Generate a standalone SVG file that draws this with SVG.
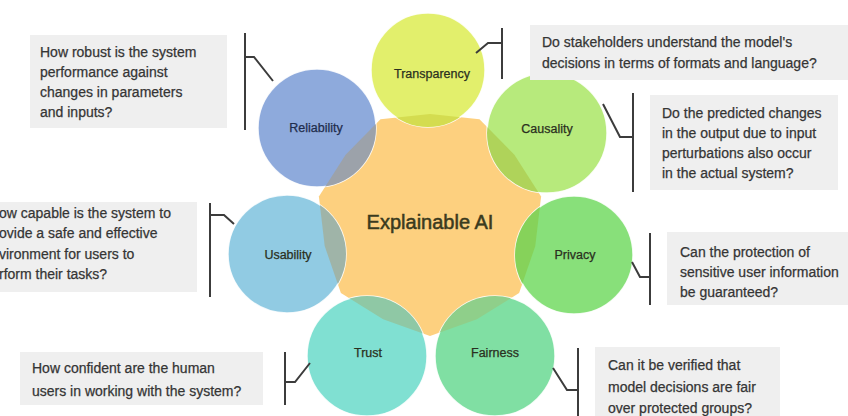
<svg xmlns="http://www.w3.org/2000/svg" width="848" height="416" viewBox="0 0 848 416">
<defs>
<style>
.box{fill:#efefef}
.q{font-family:"Liberation Sans",Arial,sans-serif;font-size:14px;fill:#353535;stroke:#353535;stroke-width:0.25}
.lbl{font-family:"Liberation Sans",Arial,sans-serif;font-size:12.5px;fill:#2a2f20;stroke:#2a2f20;stroke-width:0.25;text-anchor:middle}
.ring{stroke:#ffffff;stroke-width:1.5;stroke-opacity:0.85}
.br{fill:none;stroke:#3c3c3c;stroke-width:2}
</style>
<clipPath id="star">
<polygon points="430,114 479.5,119.3 514.4,154.7 541.1,196.6 535.3,246 519.1,293.1 476.9,319.3 430,336 383.1,319.3 340.9,293.1 324.7,246 318.9,196.6 345.6,154.7 380.5,119.3"/>
</clipPath>
</defs>
<rect x="0" y="0" width="848" height="416" fill="#ffffff"/>

<g id="center">
<polygon points="430,114 479.5,119.3 514.4,154.7 541.1,196.6 535.3,246 519.1,293.1 476.9,319.3 430,336 383.1,319.3 340.9,293.1 324.7,246 318.9,196.6 345.6,154.7 380.5,119.3" fill="#fdd07f"/>
</g>

<g id="transparency">
<circle class="ring" cx="428" cy="70" r="57" fill="#e2ef6c"/>
<circle cx="428" cy="70" r="57" fill="#d4dc50" clip-path="url(#star)"/>
<text class="lbl" x="432" y="78">Transparency</text>
</g>
<g id="causality">
<circle class="ring" cx="547" cy="133" r="60" fill="#b7ea7c"/>
<circle cx="547" cy="133" r="60" fill="#afd35a" clip-path="url(#star)"/>
<text class="lbl" x="547" y="133">Causality</text>
</g>
<g id="privacy">
<circle class="ring" cx="574" cy="255" r="59" fill="#88e07a"/>
<circle cx="574" cy="255" r="59" fill="#86d25a" clip-path="url(#star)"/>
<text class="lbl" x="575" y="259">Privacy</text>
</g>
<g id="fairness">
<circle class="ring" cx="495" cy="356" r="60" fill="#80dfa3"/>
<circle cx="495" cy="356" r="60" fill="#8fcf8a" clip-path="url(#star)"/>
<text class="lbl" x="495" y="357">Fairness</text>
</g>
<g id="trust">
<circle class="ring" cx="367" cy="356" r="60" fill="#80e0d2"/>
<circle cx="367" cy="356" r="60" fill="#8fc8a5" clip-path="url(#star)"/>
<text class="lbl" x="368" y="357">Trust</text>
</g>
<g id="usability">
<circle class="ring" cx="287" cy="254" r="59" fill="#91cbe3"/>
<circle cx="287" cy="254" r="59" fill="#9fb4a8" clip-path="url(#star)"/>
<text class="lbl" x="288" y="259">Usability</text>
</g>
<g id="reliability">
<circle class="ring" cx="317" cy="128" r="59" fill="#8eaadc"/>
<circle cx="317" cy="128" r="59" fill="#9ca2aa" clip-path="url(#star)"/>
<text class="lbl" x="316" y="132" style="fill:#1f2d4d;stroke:#1f2d4d">Reliability</text>
</g>

<text id="center-label" x="430" y="229" font-family="Liberation Sans, Arial, sans-serif" font-size="20" fill="#3a3a1e" stroke="#3a3a1e" stroke-width="0.5" text-anchor="middle">Explainable AI</text>

<g id="q-reliability">
<rect class="box" x="30" y="35" width="197" height="93"/>
<text class="q" x="40" y="57">How robust is the system</text>
<text class="q" x="40" y="77">performance against</text>
<text class="q" x="40" y="97">changes in parameters</text>
<text class="q" x="40" y="117">and inputs?</text>
</g>
<g id="q-transparency">
<rect class="box" x="530" y="25" width="330" height="55"/>
<text class="q" x="542" y="47">Do stakeholders understand the model's</text>
<text class="q" x="542" y="68">decisions in terms of formats and language?</text>
</g>
<g id="q-causality">
<rect class="box" x="650" y="95" width="188" height="95"/>
<text class="q" x="662" y="118">Do the predicted changes</text>
<text class="q" x="662" y="138">in the output due to input</text>
<text class="q" x="662" y="158">perturbations also occur</text>
<text class="q" x="662" y="178">in the actual system?</text>
</g>
<g id="q-usability">
<rect class="box" x="-5" y="202" width="202" height="90"/>
<text class="q" x="-1" y="218">ow capable is the system to</text>
<text class="q" x="-1" y="238">ovide a safe and effective</text>
<text class="q" x="-1" y="259">vironment for users to</text>
<text class="q" x="-1" y="279">rform their tasks?</text>
</g>
<g id="q-privacy">
<rect class="box" x="667" y="232" width="190" height="73"/>
<text class="q" x="680" y="257">Can the protection of</text>
<text class="q" x="680" y="277">sensitive user information</text>
<text class="q" x="680" y="297">be guaranteed?</text>
</g>
<g id="q-trust">
<rect class="box" x="20" y="352" width="243" height="53"/>
<text class="q" x="32" y="373">How confident are the human</text>
<text class="q" x="32" y="396">users in working with the system?</text>
</g>
<g id="q-fairness">
<rect class="box" x="595" y="347" width="185" height="75"/>
<text class="q" x="608" y="370">Can it be verified that</text>
<text class="q" x="608" y="392">model decisions are fair</text>
<text class="q" x="608" y="413">over protected groups?</text>
</g>

<g id="connectors">
<line class="br" x1="245" y1="33" x2="245" y2="130"/>
<polyline class="br" points="245,57 254,57 273,81"/>
<line class="br" x1="502" y1="28" x2="502" y2="79"/>
<polyline class="br" points="502,43 488,43 476,53"/>
<line class="br" x1="633" y1="93" x2="633" y2="192"/>
<polyline class="br" points="633,137 620,137 603,104"/>
<line class="br" x1="210" y1="203" x2="210" y2="297"/>
<polyline class="br" points="210,215 224,215 234,224"/>
<line class="br" x1="650" y1="233" x2="650" y2="305"/>
<polyline class="br" points="650,277 640,277 632,262"/>
<line class="br" x1="285" y1="352" x2="285" y2="405"/>
<polyline class="br" points="285,382 295,382 310,363"/>
<line class="br" x1="578" y1="348" x2="578" y2="416"/>
<polyline class="br" points="578,390 567,390 553,368"/>
</g>
</svg>
